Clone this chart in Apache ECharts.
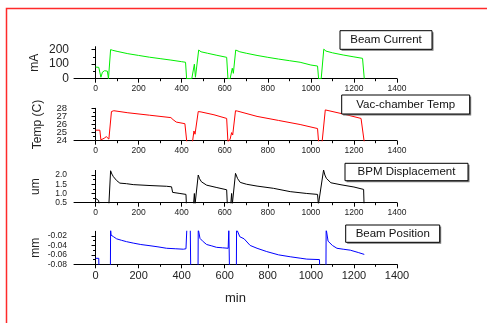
<!DOCTYPE html>
<html><head><meta charset="utf-8">
<script src="https://cdn.jsdelivr.net/npm/echarts@6/dist/echarts.min.js"></script>
<style>html,body{margin:0;padding:0;background:#fff}#c{width:487px;height:323px}</style>
</head><body><div id="c"></div>
<script>
// ---- data ----
const currentT = [0, 15, 25, 32, 42, 55, 58, 60, 70, 80, 100, 150, 200, 250, 300, 350, 400, 418, 423, 447, 459, 464, 479, 490, 520, 560, 609, 615, 625, 635, 640, 651, 670, 700, 750, 800, 850, 900, 950, 1000, 1031, 1036, 1048, 1060, 1070, 1100, 1150, 1200, 1240, 1248];
const currentV = [80, 78, 10, 45, 55, 52, 20, 0, 200, 195, 188, 172, 160, 148, 138, 128, 117, 113, 0, 0, 100, 10, 197, 185, 175, 162, 147, 0, 0, 72, 37, 197, 185, 175, 160, 147, 135, 124, 113, 94, 87, 0, 0, 203, 190, 178, 163, 150, 140, 0];

const tempT = [0, 20, 25, 40, 50, 58, 62, 74, 85, 150, 250, 350, 360, 375, 415, 420, 424, 450, 457, 462, 477, 490, 550, 609, 615, 625, 632, 637, 650, 660, 750, 850, 950, 1031, 1036, 1052, 1067, 1075, 1150, 1233, 1248];
const tempV = [25.3, 25.3, 24.1, 24.3, 24.5, 24.5, 24.2, 27.6, 27.7, 27.45, 27.15, 26.85, 26.6, 26.3, 26.1, 26.0, 23.8, 23.8, 25.2, 24.8, 27.6, 27.55, 27.2, 26.75, 23.8, 24.2, 25.0, 24.7, 27.7, 27.65, 27.0, 26.5, 26.0, 25.5, 23.8, 23.8, 27.8, 27.65, 27.3, 26.75, 23.8];

const bpmT = [0, 8, 14, 17, 62, 70, 76, 83, 98, 113, 144, 175, 253, 330, 353, 358, 392, 420, 422, 455, 459, 462, 477, 483, 492, 516, 560, 609, 612, 628, 632, 635, 650, 660, 672, 701, 750, 826, 904, 981, 1031, 1035, 1059, 1065, 1072, 1093, 1140, 1200, 1245, 1247];
const bpmV = [0.74, 0.72, 0.62, 0.4, 0.4, 2.23, 2.05, 1.91, 1.70, 1.56, 1.53, 1.48, 1.43, 1.39, 1.36, 1.06, 1.0, 0.95, 0.4, 0.4, 1.0, 0.4, 2.0, 1.8, 1.63, 1.45, 1.33, 1.2, 0.4, 0.4, 1.0, 0.4, 2.09, 1.8, 1.6, 1.5, 1.4, 1.28, 1.1, 1.0, 0.95, 0.4, 2.27, 2.0, 1.82, 1.58, 1.47, 1.35, 1.22, 0.4];

const posT = [0, 15, 16, 69, 70, 72, 83, 98, 120, 144, 175, 210, 253, 290, 330, 370, 408, 420, 424, 440, 442, 476, 477, 485, 500, 516, 540, 562, 590, 616, 619, 622, 654, 655, 670, 690, 718, 750, 795, 850, 904, 950, 981, 1040, 1041, 1070, 1071, 1080, 1100, 1121, 1150, 1183, 1220, 1248];
const posV = [-0.0673, -0.0673, -0.09, -0.09, -0.005, -0.018, -0.0213, -0.026, -0.029, -0.032, -0.035, -0.038, -0.0406, -0.043, -0.046, -0.047, -0.048, -0.047, -0.005, -0.005, -0.09, -0.09, -0.005, -0.025, -0.032, -0.038, -0.041, -0.044, -0.045, -0.046, -0.005, -0.09, -0.09, -0.005, -0.0215, -0.026, -0.04, -0.046, -0.053, -0.06, -0.064, -0.067, -0.069, -0.07, -0.09, -0.09, -0.005, -0.031, -0.04, -0.046, -0.048, -0.05, -0.055, -0.059];

const xLabelTicks = [0, 200, 400, 600, 800, 1000, 1200, 1400];
const xMinorTicks = [100, 300, 500, 700, 900, 1100, 1300];
const yNames = ['mA', 'Temp (C)', 'um', 'mm'];
const legendNames = ['Beam Current', 'Vac-chamber Temp', 'BPM Displacement', 'Beam Position'];
const yMajorTicks = [[0, 100, 200], [24, 25, 26, 27, 28], [0.5, 1.0, 1.5, 2.0], [-0.08, -0.06, -0.04, -0.02]];
const yLabelsA = [[0, 100, 200], [24, 26, 28], [0.5, 1.0, 1.5, 2.0], [-0.08, -0.06, -0.04, -0.02]];
const yLabelsB = [[], [25, 27], [], []];
const yMinorTicks = [[50, 150], [24.5, 25.5, 26.5, 27.5], [0.75, 1.25, 1.75], [-0.07, -0.05, -0.03]];
const xAxisName = 'min';

// ---- layout ----
const panels = [
  {top: 46.7, height: 32, min: 0, max: 220, dec: 0, yfont: 12, ymargin: 5, xfont: 8.5, color: '#00ee00', t: currentT, v: currentV, ngap: 33},
  {top: 108.3, height: 32.4, min: 24, max: 28, dec: 0, yfont: 9.5, ymargin: 7, xfont: 8.5, color: '#ff0000', t: tempT, v: tempV, ngap: 30},
  {top: 170.4, height: 32.3, min: 0.5, max: 2.25, dec: 1, yfont: 8.5, ymargin: 7, xfont: 8.5, color: '#000000', t: bpmT, v: bpmV, ngap: 32},
  {top: 231.3, height: 33, min: -0.08, max: -0.01, dec: 2, yfont: 8.5, ymargin: 7, xfont: 11, color: '#0000ff', t: posT, v: posV, ngap: 32}
];
const boxes = [
  {x: 340, y: 30.7, w: 92, h: 18.6},
  {x: 341.7, y: 95, w: 128, h: 19},
  {x: 345, y: 163.3, w: 123, h: 17.4},
  {x: 345.7, y: 225, w: 94, h: 17.3}
];
const FONT = 'Liberation Sans, Arial, sans-serif';
const grid = [], xAxis = [], yAxis = [], series = [], graphic = [];
panels.forEach((p, i) => {
  grid.push({left: 74, top: p.top, width: 323, height: p.height});
  const last = i === panels.length - 1;
  xAxis.push({type: 'value', gridIndex: i, position: 'bottom', min: -100, max: 1400, interval: 100,
    axisLine: {lineStyle: {color: '#000', width: 1}},
    axisTick: {customValues: xLabelTicks, length: 4, lineStyle: {color: '#000'}},
    axisLabel: {customValues: xLabelTicks, interval: 0, hideOverlap: false, fontSize: p.xfont, fontFamily: FONT, color: '#222', margin: last ? 6 : 5,
      formatter: v => String(v)},
    splitLine: {show: false},
    name: last ? xAxisName : '', nameLocation: 'middle', nameGap: 28, nameMoveOverlap: false,
    nameTextStyle: {fontSize: 13, fontFamily: FONT, color: '#222'}
  });
  xAxis.push({type: 'value', gridIndex: i, position: 'bottom', min: -100, max: 1400, interval: 100,
    axisLine: {show: false},
    axisTick: {customValues: xMinorTicks, length: 2.5, lineStyle: {color: '#000'}},
    axisLabel: {show: false}, splitLine: {show: false}
  });
  const mkLabel = vals => ({customValues: vals, show: vals.length > 0, fontSize: p.yfont, fontFamily: FONT, color: '#222', margin: p.ymargin,
      showMinLabel: true, showMaxLabel: true, hideOverlap: false,
      formatter: v => Number(v).toFixed(p.dec)});
  yAxis.push({type: 'value', gridIndex: i, position: 'left', min: p.min, max: p.max,
    axisLine: {show: true, lineStyle: {color: '#000', width: 1}},
    axisTick: {customValues: yMajorTicks[i], length: 4, lineStyle: {color: '#000'}},
    axisLabel: mkLabel(yLabelsA[i]),
    splitLine: {show: false},
    name: yNames[i], nameLocation: 'middle', nameGap: p.ngap, nameRotate: 90, nameMoveOverlap: false,
    nameTextStyle: {fontSize: 12, fontFamily: FONT, color: '#222'}
  });
  yAxis.push({type: 'value', gridIndex: i, position: 'left', min: p.min, max: p.max,
    axisLine: {show: false},
    axisTick: {customValues: yMinorTicks[i], length: 2.5, lineStyle: {color: '#000'}},
    axisLabel: mkLabel(yLabelsB[i]), splitLine: {show: false}
  });
  series.push({type: 'line', xAxisIndex: 2 * i, yAxisIndex: 2 * i, showSymbol: false, clip: true,
    lineStyle: {color: p.color, width: 1}, itemStyle: {color: p.color},
    data: p.t.map((t, k) => [t, p.v[k]])
  });
  const b = boxes[i];
  graphic.push({type: 'rect', shape: {x: b.x + 1.5, y: b.y + 1.5, width: b.w, height: b.h}, style: {fill: '#777'}, z: 10});
  graphic.push({type: 'rect', shape: {x: b.x, y: b.y, width: b.w, height: b.h}, style: {fill: '#fff', stroke: '#000', lineWidth: 1}, z: 11});
  graphic.push({type: 'text', x: b.x + b.w / 2, y: b.y + b.h / 2, z: 12,
    style: {text: legendNames[i], fontSize: 11.5, fontFamily: FONT, fill: '#111', align: 'center', verticalAlign: 'middle'}});
});
graphic.push({type: 'polyline', shape: {points: [[6.5, 323], [6.5, 8.5], [487, 8.5]]}, style: {stroke: '#ff2a2a', lineWidth: 1.5, fill: null}, z: 20});

const chart = echarts.init(document.getElementById('c'), null, {renderer: 'canvas'});
chart.setOption({animation: false, backgroundColor: '#fff', grid, xAxis, yAxis, series, graphic});
</script></body></html>
